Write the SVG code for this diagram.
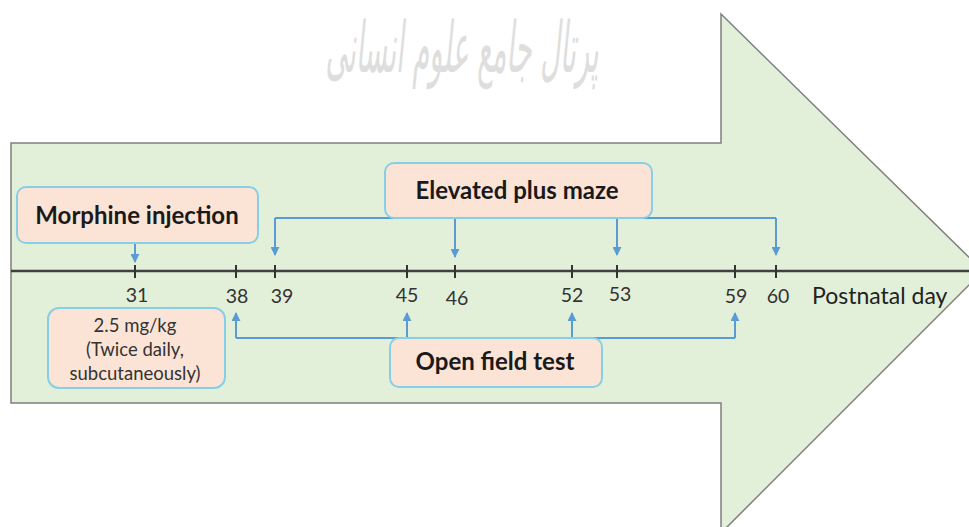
<svg xmlns="http://www.w3.org/2000/svg" width="969" height="527" viewBox="0 0 969 527">
<style>
.box{fill:#fbe4d6;stroke:#86cfe6;stroke-width:2}
.lbl{font-family:Lato,"Liberation Sans",sans-serif;font-weight:bold;font-size:24px;fill:#1a1a1a;text-anchor:middle}
.small{font-family:Lato,"Liberation Sans",sans-serif;font-size:18.5px;fill:#333;text-anchor:middle}
.num{font-family:Lato,"Liberation Sans",sans-serif;font-size:19.5px;fill:#333;text-anchor:middle}
.conn{fill:none;stroke:#5b9bd5;stroke-width:2}
.tick{stroke:#333;stroke-width:2}
</style>
<defs>
<marker id="ah" viewBox="0 0 10 10" refX="9" refY="5" markerWidth="4.5" markerHeight="4.5" orient="auto">
<path d="M0,0 L10,5 L0,10 z" fill="#5b9bd5"/>
</marker>
</defs>
<rect width="969" height="527" fill="#fff"/>
<text transform="translate(462,72) scale(0.62,1.6)" x="0" y="0" font-family="DejaVu Sans,sans-serif" font-size="44" fill="#dedede" text-anchor="middle" font-style="italic">پرتال جامع علوم انسانی</text>
<g id="timeline-arrow">
<polygon points="11,143 721,143 721,14 983,271 721,533 721,403 11,403" fill="#e2efd9" stroke="#7f7f7f" stroke-width="1.5"/>
</g>
<g id="axis">
<line x1="11" y1="271" x2="969" y2="271" stroke="#404040" stroke-width="2.5"/>
<g class="tick">
<line x1="135" y1="265" x2="135" y2="278"/>
<line x1="236" y1="265" x2="236" y2="278"/>
<line x1="275" y1="265" x2="275" y2="278"/>
<line x1="407" y1="265" x2="407" y2="278"/>
<line x1="455" y1="265" x2="455" y2="278"/>
<line x1="572" y1="265" x2="572" y2="278"/>
<line x1="617" y1="265" x2="617" y2="278"/>
<line x1="735" y1="265" x2="735" y2="278"/>
<line x1="776" y1="265" x2="776" y2="278"/>
</g>
<text class="num" x="137" y="302">31</text>
<text class="num" x="237" y="303">38</text>
<text class="num" x="282" y="303">39</text>
<text class="num" x="407" y="302">45</text>
<text class="num" x="457" y="305">46</text>
<text class="num" x="572" y="302">52</text>
<text class="num" x="620" y="301">53</text>
<text class="num" x="736" y="303">59</text>
<text class="num" x="778" y="303">60</text>
<text x="812" y="304" font-family="Lato,'Liberation Sans',sans-serif" font-size="23px" fill="#222">Postnatal day</text>
</g>
<g id="connectors">
<line class="conn" x1="135" y1="243" x2="135" y2="262" marker-end="url(#ah)"/>
<path class="conn" d="M275,218 H776"/>
<line class="conn" x1="275" y1="218" x2="275" y2="255" marker-end="url(#ah)"/>
<line class="conn" x1="455" y1="218" x2="455" y2="257" marker-end="url(#ah)"/>
<line class="conn" x1="617" y1="218" x2="617" y2="255" marker-end="url(#ah)"/>
<line class="conn" x1="776" y1="218" x2="776" y2="255" marker-end="url(#ah)"/>
<path class="conn" d="M236,338 H735"/>
<line class="conn" x1="236" y1="338" x2="236" y2="313" marker-end="url(#ah)"/>
<line class="conn" x1="407" y1="338" x2="407" y2="313" marker-end="url(#ah)"/>
<line class="conn" x1="572" y1="338" x2="572" y2="313" marker-end="url(#ah)"/>
<line class="conn" x1="735" y1="338" x2="735" y2="313" marker-end="url(#ah)"/>
</g>
<g id="morphine-injection">
<rect class="box" x="17" y="187" width="241" height="56" rx="9"/>
<text class="lbl" x="137" y="224">Morphine injection</text>
</g>
<g id="dose">
<rect class="box" x="48" y="308" width="177" height="80" rx="11"/>
<text class="small" x="135" y="332">2.5 mg/kg</text>
<text class="small" x="135" y="356">(Twice daily,</text>
<text class="small" x="135" y="380">subcutaneously)</text>
</g>
<g id="elevated-plus-maze">
<rect class="box" x="385" y="163" width="267" height="55" rx="9"/>
<text class="lbl" x="517" y="199">Elevated plus maze</text>
</g>
<g id="open-field-test">
<rect class="box" x="390" y="338" width="212" height="49" rx="9"/>
<text class="lbl" x="495" y="370">Open field test</text>
</g>
</svg>
